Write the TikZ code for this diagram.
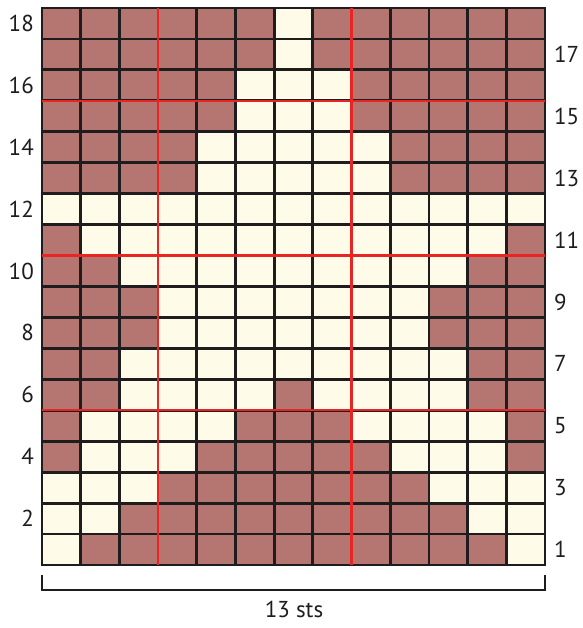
\documentclass[tikz,border=0pt]{standalone}
\usepackage{fontspec}
\setmainfont{PT Sans}
\definecolor{knitbrown}{RGB}{181,117,112}
\definecolor{knitcream}{RGB}{254,251,232}
\definecolor{knitred}{RGB}{232,36,36}
\definecolor{knitblack}{RGB}{30,28,28}
\begin{document}
\begin{tikzpicture}[x=1pt,y=-1pt,
  gridline/.style={draw=knitblack,line width=2.8pt},
  redline/.style={draw=knitred,line width=2.4pt},
  bracketline/.style={draw=knitblack,line width=2.2pt,line join=miter},
  numlabel/.style={inner sep=0pt,font=\fontsize{23}{27}\selectfont,text=knitblack}]
\useasboundingbox (0,0) rectangle (582,628);
\def\cw{38.692}
\def\ch{30.944}
% background brown
\fill[knitbrown] (42,8) rectangle (545,565);
% cream cells
\foreach \r/\cols in {18/{7},17/{7},16/{6,7,8},15/{6,7,8},14/{5,6,7,8,9},13/{5,6,7,8,9},
  12/{1,2,3,4,5,6,7,8,9,10,11,12,13},11/{2,3,4,5,6,7,8,9,10,11,12},10/{3,4,5,6,7,8,9,10,11},
  9/{4,5,6,7,8,9,10},8/{4,5,6,7,8,9,10},7/{3,4,5,6,7,8,9,10,11},6/{3,4,5,6,8,9,10,11},
  5/{2,3,4,5,9,10,11,12},4/{2,3,4,10,11,12},3/{1,2,3,11,12,13},2/{1,2,12,13},1/{1,13}}{
  \foreach \c in \cols {
    \fill[knitcream] ({42+(\c-1)*\cw},{8+(18-\r)*\ch}) rectangle +(\cw,\ch);
  }
}
% grid
\foreach \i in {1,...,12} \draw[gridline] ({42+\i*\cw},8) -- ({42+\i*\cw},565);
\foreach \j in {1,...,17} \draw[gridline] (42,{8+\j*\ch}) -- (545,{8+\j*\ch});
\draw[gridline,line join=miter] (42,8) rectangle (545,565);
% red lines
\foreach \i in {3,8} \draw[redline] ({42+\i*\cw},8) -- ({42+\i*\cw},565);
\foreach \j in {3,8,13} \draw[redline] (42,{8+\j*\ch}) -- (545,{8+\j*\ch});
% row numbers
\foreach \r in {2,4,...,18} \node[numlabel,anchor=east] (L\r) at (34,{8+(18-\r+0.5)*\ch}) {\r};
\foreach \r in {1,3,...,17} \node[numlabel,anchor=west] (R\r) at (554,{8+(18-\r+0.5)*\ch}) {\r};
% bracket
\coordinate (bl) at (42,575);
\coordinate (br) at (545,575);
\draw[bracketline] (bl) -- (42,590) -- (545,590) -- (br);
\node[numlabel] (sts) at (294,609) {13 sts};
\end{tikzpicture}
\end{document}
